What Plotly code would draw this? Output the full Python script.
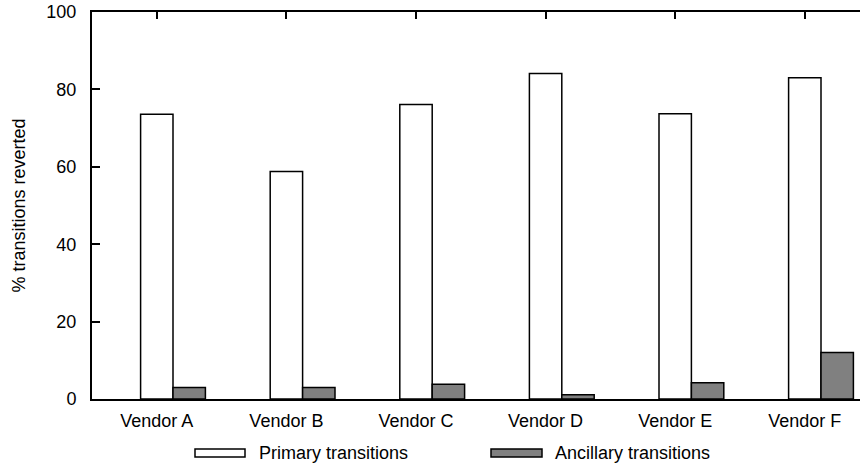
import plotly.graph_objects as go

vendors = ["Vendor A", "Vendor B", "Vendor C", "Vendor D", "Vendor E", "Vendor F"]
primary = [73.6, 58.8, 76.1, 84.1, 73.7, 83.0]
ancillary = [3.0, 3.0, 3.8, 1.1, 4.2, 12.0]
series_names = ["Primary transitions", "Ancillary transitions"]
y_ticks = [0, 20, 40, 60, 80, 100]

FONT = dict(family="Arial, Liberation Sans, sans-serif", size=18, color="black")
BAR_W = 0.25
pos = list(range(len(vendors)))

fig = go.Figure()
fig.add_trace(go.Bar(
    x=pos, y=primary, width=BAR_W, name=series_names[0],
    marker=dict(color="white", line=dict(color="black", width=1.5)),
    showlegend=False,
))
fig.add_trace(go.Bar(
    x=[p + BAR_W for p in pos], y=ancillary, width=BAR_W, name=series_names[1],
    marker=dict(color="#808080", line=dict(color="black", width=1.5)),
    showlegend=False,
))

# plot area in pixels: x 92..860, y 12..399
L, R, T, B = 92, 0, 12, 67
W, H = 860, 466
pw = W - L - R
ph = H - T - B

def px(xp):
    return (xp - L) / pw

def py(yp):
    return (H - B - yp) / ph

# custom legend swatches
legend_items = [
    (195, 245, 257, "white"),
    (491, 542, 553, "#808080"),
]
for (x0, x1, tx, col), name in zip(legend_items, series_names):
    fig.add_shape(type="rect", xref="paper", yref="paper",
                  x0=px(x0), x1=px(x1), y0=py(457), y1=py(449),
                  fillcolor=col, line=dict(color="black", width=1.5))
    fig.add_annotation(xref="paper", yref="paper", x=px(tx), y=py(453),
                       xanchor="left", yanchor="middle", text=name,
                       showarrow=False, font=FONT)

fig.add_annotation(xref="paper", yref="paper", x=px(18), y=0.5,
                   xanchor="center", yanchor="middle", textangle=-90,
                   text="% transitions reverted", showarrow=False, font=FONT)

fig.update_layout(
    width=W, height=H,
    margin=dict(l=L, r=R, t=T, b=B, pad=0),
    paper_bgcolor="white", plot_bgcolor="white",
    barmode="overlay",
    font=FONT,
    xaxis=dict(
        range=[-0.5, -0.5 + pw / 129.6],
        tickvals=pos, ticktext=vendors,
        ticks="inside", ticklen=7, tickwidth=1.5, tickcolor="black",
        showline=True, linecolor="black", linewidth=2, mirror="ticks",
        showgrid=False, zeroline=False, layer="below traces",
        ticklabelstandoff=4,
    ),
    yaxis=dict(
        range=[0, 100], tickvals=y_ticks,
        ticks="inside", ticklen=8, tickwidth=1.5, tickcolor="black",
        showline=True, linecolor="black", linewidth=2,
        showgrid=False, zeroline=False,
        ticklabelstandoff=10,
    ),
)

fig.write_html("out.html", config={"displayModeBar": False},
               post_script="document.body.style.margin='0';")
